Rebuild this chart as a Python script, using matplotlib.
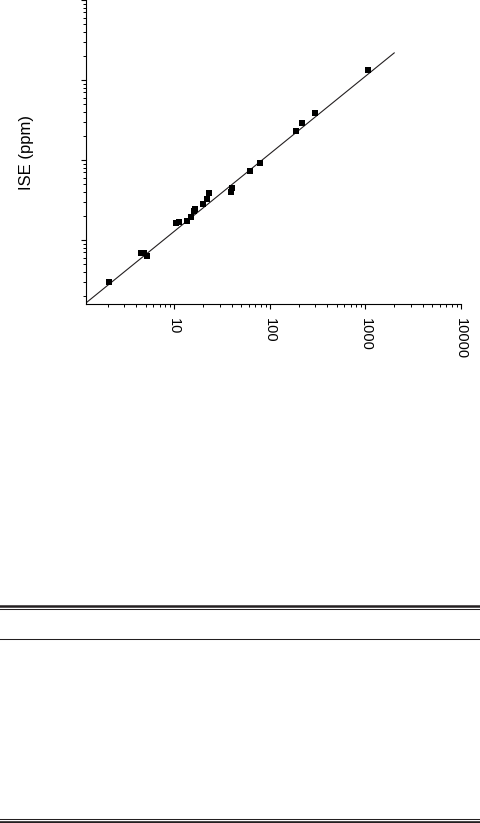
import matplotlib
matplotlib.use("Agg")
import matplotlib.pyplot as plt
from matplotlib.lines import Line2D
from matplotlib.ticker import FixedLocator, FixedFormatter, NullFormatter, LogLocator

conc_x = [2.09, 4.49, 4.86, 5.19, 10.3, 11.2, 13.6, 15.0, 16.2, 16.6, 20.0,
          22.1, 23.2, 39.2, 39.8, 62.2, 79.2, 188, 217, 293, 1067]
ise_y = [2.94, 6.96, 6.96, 6.21, 16.3, 16.9, 17.4, 19.5, 23.2, 24.6, 28.4,
         32.8, 39.0, 40.1, 44.2, 71.9, 92.3, 231, 291, 388, 1330]

# fitted line, end points
fit_x = [1.19, 2000]
fit_y = [1.63, 2180]

x_ticks = [10, 100, 1000, 10000]
x_labels = ["10", "100", "1000", "10000"]

ink = "#231f20"
plt.rcParams['font.family'] = ['Liberation Sans', 'DejaVu Sans']

fig = plt.figure(figsize=(4.81, 8.23), dpi=100)
ax = fig.add_axes([86 / 481, 1 - 304 / 823, 375 / 481, 304 / 823])

ax.plot(fit_x, fit_y, color=ink, lw=0.8, clip_on=True)
ax.plot(conc_x, ise_y, 's', color="black", ms=3.8, mew=0)

ax.set_xscale("log")
ax.set_yscale("log")
ax.set_xlim(1.19, 10000)
ax.set_ylim(1.58, 10000)

ax.xaxis.set_major_locator(FixedLocator(x_ticks))
ax.xaxis.set_major_formatter(FixedFormatter(x_labels))
ax.xaxis.set_minor_locator(LogLocator(base=10, subs=range(2, 10)))
ax.xaxis.set_minor_formatter(NullFormatter())
ax.yaxis.set_major_locator(LogLocator(base=10, numticks=10))
ax.yaxis.set_minor_locator(LogLocator(base=10, subs=range(2, 10), numticks=20))
ax.yaxis.set_major_formatter(NullFormatter())
ax.yaxis.set_minor_formatter(NullFormatter())

for side in ("top", "right"):
    ax.spines[side].set_visible(False)
for side in ("left", "bottom"):
    ax.spines[side].set_linewidth(0.8)
    ax.spines[side].set_color("black")

ax.tick_params(which="major", length=3.8, width=0.8, color="black")
ax.tick_params(which="minor", length=2.0, width=0.7, color="black")
ax.tick_params(axis="x", which="major", pad=6, labelsize=10.5)
for lab in ax.get_xticklabels():
    lab.set_rotation(-90)

ax.set_ylabel("ISE (ppm)", fontsize=12)
ax.yaxis.set_label_coords(-0.139, 0.5)

# table rules under the figure
def rule(y_px, lw):
    y = 1 - y_px / 823
    fig.add_artist(Line2D([0, 1], [y, y], transform=fig.transFigure,
                          color=ink, lw=lw))

rule(605.5, 1.8)
rule(609.2, 0.75)
rule(639.2, 0.75)
rule(819.3, 0.75)
rule(822.0, 1.9)

fig.savefig("out.png", dpi=100)
